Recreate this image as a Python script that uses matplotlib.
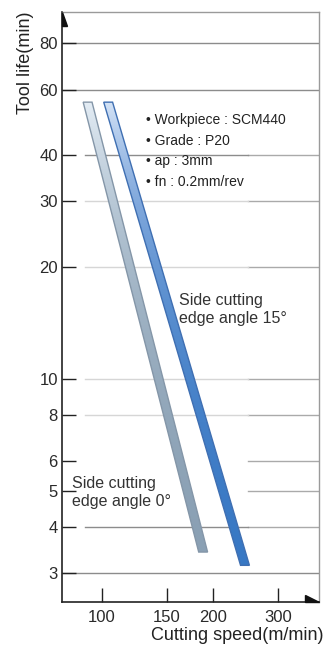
import numpy as np
import matplotlib
matplotlib.use("Agg")
import matplotlib.pyplot as plt
from matplotlib.patches import Polygon
from matplotlib.colors import LinearSegmentedColormap
from matplotlib.ticker import FixedLocator, NullLocator

# Data (log-log tool life curves)
speed_0 = [91.5, 188.0]
life_0 = [55.5, 3.42]
speed_15 = [104.0, 244.0]
life_15 = [55.5, 3.15]

x_ticks = [100, 150, 200, 300]
y_ticks = [3, 4, 5, 6, 8, 10, 20, 30, 40, 60, 80]
conditions = ["Workpiece : SCM440", "Grade : P20", "ap : 3mm", "fn : 0.2mm/rev"]

plt.rcParams['font.family'] = ['Liberation Sans', 'DejaVu Sans']

fig = plt.figure(figsize=(3.29, 6.46), dpi=100)
ax = fig.add_axes([0.1884, 0.0681, 0.7812, 0.9133])
ax.set_xscale('log')
ax.set_yscale('log')

# grid lines (the picture has a pasted white box in the middle)
for v in [80, 60, 3]:
    ax.axhline(v, color='#8c8c8c', lw=1, zorder=0)
for v in [40, 30, 20, 10, 8, 6, 5, 4]:
    ax.axhline(v, xmin=0.724, xmax=1, color='#aaaaaa', lw=1, zorder=0)
for v in [30, 20, 10, 8]:
    ax.axhline(v, xmin=0.09, xmax=0.724, color='#d6d6d6', lw=1, zorder=0)
for v in [40, 4]:
    ax.axhline(v, xmin=0.09, xmax=0.724, color='#8c8c8c', lw=1, zorder=0)


def band(xs, ys, colors, edge, k=1.028):
    verts = [(xs[0] / k, ys[0]), (xs[0] * k, ys[0]), (xs[1] * k, ys[1]), (xs[1] / k, ys[1])]
    poly = Polygon(verts, closed=True, facecolor='none', edgecolor=edge, lw=1.0, zorder=3)
    ax.add_patch(poly)
    cmap = LinearSegmentedColormap.from_list('g', colors)
    grad = np.linspace(0, 1, 256).reshape(-1, 1)
    im = ax.imshow(grad, cmap=cmap, aspect='auto', origin='upper',
                   extent=(min(xs) / k, max(xs) * k, min(ys), max(ys)), zorder=2)
    im.set_clip_path(poly)


band(speed_0, life_0, ['#e4edf5', '#b8c8d6', '#8aa0b4'], '#8496a8')
band(speed_15, life_15, ['#d4e3f6', '#80a8dc', '#3878c4'], '#3f6fb2')
ax.set_xlim(78, 387)
ax.set_ylim(2.51, 97)

ax.xaxis.set_major_locator(FixedLocator(x_ticks))
ax.yaxis.set_major_locator(FixedLocator(y_ticks))
ax.xaxis.set_minor_locator(NullLocator())
ax.yaxis.set_minor_locator(NullLocator())
ax.set_xticklabels([str(t) for t in x_ticks])
ax.set_yticklabels([str(t) for t in y_ticks])
ax.tick_params(direction='in', length=10, width=1, color='#222222', labelsize=12, labelcolor='#2a2a2a')
ax.tick_params(axis='x', pad=6)
ax.tick_params(axis='y', pad=3)

for s in ['left', 'bottom']:
    ax.spines[s].set_color('#222222')
    ax.spines[s].set_linewidth(1.2)
for s in ['top', 'right']:
    ax.spines[s].set_color('#9a9a9a')
    ax.spines[s].set_linewidth(1)

# half arrow heads at axis ends
ax.add_patch(Polygon([(0, 1), (0, 0.976), (0.0195, 0.976)], closed=True, color='#111111',
                     transform=ax.transAxes, clip_on=False, zorder=5))
ax.add_patch(Polygon([(1, 0), (0.945, 0), (0.945, 0.012)], closed=True, color='#111111',
                     transform=ax.transAxes, clip_on=False, zorder=5))

ax.text(0.327, 0.829, "\n".join("\u2022 " + c for c in conditions), transform=ax.transAxes,
        fontsize=10, color='#222222', va='top', ha='left', linespacing=1.6)
ax.text(0.455, 0.496, "Side cutting\nedge angle 15\u00b0", transform=ax.transAxes,
        fontsize=11.5, color='#333333', va='center', ha='left', linespacing=1.25)
ax.text(0.039, 0.185, "Side cutting\nedge angle 0\u00b0", transform=ax.transAxes,
        fontsize=11.5, color='#333333', va='center', ha='left', linespacing=1.25)

fig.text(26 / 329, 1 - 63 / 646, "Tool life(min)", rotation=90, ha='center', va='center',
         fontsize=13, color='#222222')
fig.text(237 / 329, 1 - 636 / 646, "Cutting speed(m/min)", ha='center', va='center',
         fontsize=13, color='#222222')

fig.savefig('out.png', dpi=100)
